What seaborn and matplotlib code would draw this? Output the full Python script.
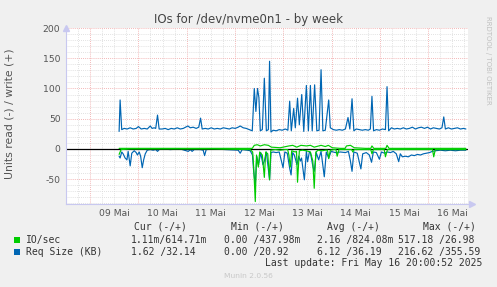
import matplotlib
matplotlib.use("Agg")
import matplotlib.pyplot as plt
from matplotlib.patches import Rectangle
import matplotlib.transforms as mtrans
import numpy as np
import pandas as pd
import seaborn as sns

# ---------------- data (hours since 09 Mai 00:00, value) ----------------
IO_READ = [(14.4, -9), (15.4, -1), (20, 0), (40, 0), (60, 0), (79.6, -1), (80.8, -5), (81.3, -30),
           (82.1, -87), (82.7, -10), (83.6, -30), (84.3, -5), (85.6, -10), (86.6, -47), (87.3, -5),
           (88.3, -8), (89.2, -51), (89.8, -2), (92.0, -1), (94.5, -2), (97.0, -1), (98.2, -1),
           (98.8, -10), (99.5, -30), (100.2, -3), (102.0, -5), (102.6, -4), (103.1, -55), (104.0, -3),
           (105.5, -2), (107.5, -3), (109.5, -5), (110.7, -20), (111.4, -65), (112.2, -5), (113.4, -2),
           (115.4, -3), (116.9, -2), (118.0, -2), (118.6, -16), (119.4, -2), (121.4, -1), (122.2, -1),
           (122.8, -12), (123.7, -1), (126.9, -1), (130.0, -1), (130.6, -5), (131.3, -1), (136.8, -1),
           (139.5, -1), (140.1, -8), (140.8, -1), (146.2, -1), (146.8, -13), (147.8, -1), (154.2, -1),
           (170.2, -1), (170.8, -13), (171.6, -1), (186.8, -1)]
IO_WRITE = [(14.4, 1), (30, 1), (50, 1), (80.6, 1), (81.6, 6), (83.1, 7), (84.6, 5), (86.6, 7),
            (88.6, 6), (90.1, 3), (94.5, 2), (98.8, 5), (100.7, 6), (102.7, 3), (104.8, 6), (107.5, 5),
            (109.5, 6), (111.4, 3), (114.8, 6), (116.9, 4), (118.4, 6), (120.4, 2), (124.4, 1),
            (126.8, 1), (127.4, 5), (129.4, 6), (131.3, 2), (136.8, 1), (139.5, 1), (140.1, 5),
            (141.0, 1), (147.0, 1), (147.6, 6), (148.6, 1), (186.8, 1)]
REQ_READ = [(14.4, -12), (14.9, -15), (15.7, -5), (16.4, -8), (17.4, -15), (18.3, -18), (18.9, -4),
            (19.9, -28), (20.7, -7), (21.9, -3), (22.9, -6), (23.5, -10), (24.4, -5), (25.1, -12),
            (25.9, -31), (26.6, -18), (27.4, -8), (28.4, -2), (29.9, -1), (31.3, -2), (32.6, -1),
            (33.5, -4), (34.3, -1), (36.3, 0), (39.8, -1), (44.8, 0), (47.8, -3), (48.8, -4), (49.8, -1),
            (50.7, -4), (51.7, -1), (54.7, -1), (56.2, -2), (56.9, -11), (57.7, -1), (62.2, 0),
            (67.2, -1), (73.6, -2), (74.6, -7), (75.6, -1), (78.1, -2), (79.6, -3), (80.7, -10),
            (81.3, -37), (82.1, -60), (82.8, -12), (83.7, -26), (84.8, -6), (85.9, -26), (86.6, -20),
            (87.6, -5), (89.2, -51), (89.9, -6), (91.0, -5), (92.5, -6), (94.0, -5), (95.9, -31),
            (96.8, -5), (98.0, -7), (99.2, -32), (99.9, -43), (100.7, -6), (101.5, -10), (102.8, -26),
            (103.7, -12), (104.5, -20), (105.1, -15), (106.5, -51), (107.5, -4), (108.1, -21),
            (109.0, -5), (109.5, -6), (110.8, -30), (111.4, -37), (112.4, -6), (113.6, -18),
            (114.8, -4), (116.4, -46), (117.4, -5), (118.6, -15), (119.8, -4), (121.9, -6), (124.4, -5),
            (126.9, -6), (128.4, -4), (129.4, -20), (130.2, -37), (131.1, -5), (132.8, -7), (134.6, -33),
            (135.5, -8), (137.3, -6), (138.8, -10), (139.9, -22), (140.8, -5), (142.3, -6), (143.8, -17),
            (144.8, -5), (146.3, -7), (147.8, -5), (149.3, -6), (150.7, -4), (152.2, -8), (153.4, -21),
            (154.2, -8), (155.2, -13), (156.7, -12), (158.2, -13), (159.7, -10), (161.2, -11),
            (162.7, -9), (164.2, -10), (165.7, -8), (167.2, -7), (168.7, -6), (170.1, -4), (171.6, -3),
            (174.1, -2), (176.6, -3), (179.1, -2), (181.6, -3), (184.1, -2), (186.8, -2)]
REQ_WRITE = [(14.4, 29), (14.9, 81), (15.7, 32), (16.9, 34), (18.4, 33), (19.9, 35), (21.4, 33),
             (22.9, 34), (24.0, 37), (25.4, 33), (26.9, 34), (28.4, 33), (29.9, 38), (30.8, 34),
             (31.8, 35), (32.6, 34), (33.5, 56), (34.3, 33), (35.8, 33), (37.3, 34), (38.8, 32),
             (40.3, 34), (41.8, 33), (43.3, 35), (44.8, 33), (46.3, 34), (47.5, 36), (48.6, 38),
             (49.8, 35), (51.2, 36), (52.7, 34), (54.0, 36), (54.9, 51), (55.7, 33), (57.2, 34),
             (58.7, 33), (60.2, 35), (61.7, 33), (63.2, 34), (64.7, 33), (66.2, 35), (67.7, 34),
             (69.2, 33), (70.6, 35), (72.1, 34), (73.6, 36), (74.6, 38), (76.1, 35), (77.6, 34),
             (79.1, 32), (80.6, 30), (81.6, 100), (82.4, 62), (83.2, 100), (83.9, 85), (84.6, 30),
             (85.6, 32), (86.6, 117), (87.6, 30), (88.6, 32), (89.2, 145), (89.9, 28), (91.0, 31),
             (92.5, 30), (94.0, 32), (95.5, 31), (97.0, 33), (98.3, 31), (99.2, 79), (100.0, 30),
             (101.2, 67), (102.0, 35), (103.1, 84), (104.0, 40), (105.2, 90), (106.2, 29), (107.5, 105),
             (108.5, 30), (109.5, 105), (110.4, 30), (111.6, 106), (112.7, 30), (113.8, 31),
             (114.8, 131), (115.7, 30), (116.9, 31), (118.6, 81), (119.4, 35), (120.9, 32), (122.4, 31),
             (123.9, 32), (125.4, 31), (126.9, 33), (128.2, 52), (129.1, 33), (130.2, 83), (131.1, 30),
             (132.3, 33), (133.8, 32), (135.3, 31), (136.8, 32), (138.3, 31), (139.3, 33), (140.1, 87),
             (140.9, 30), (142.3, 32), (143.8, 31), (145.3, 33), (146.8, 32), (147.6, 103), (148.4, 30),
             (149.8, 35), (151.2, 33), (152.7, 34), (154.2, 33), (155.7, 35), (157.2, 33), (158.7, 34),
             (160.2, 36), (161.7, 33), (163.2, 35), (164.7, 36), (166.2, 34), (167.7, 36), (169.2, 33),
             (170.6, 35), (172.1, 34), (173.6, 33), (174.9, 35), (175.8, 53), (176.6, 33), (178.1, 35),
             (179.6, 33), (181.1, 34), (182.6, 35), (184.1, 33), (185.6, 34), (186.8, 33)]

DAY_LABELS = ["09 Mai", "10 Mai", "11 Mai", "12 Mai", "13 Mai", "14 Mai", "15 Mai", "16 Mai"]
Y_TICKS = [-50, 0, 50, 100, 150, 200]

LEGEND_HEAD = ["Cur (-/+)", "Min (-/+)", "Avg (-/+)", "Max (-/+)"]
IO_STATS = ["1.11m/614.71m", "0.00 /437.98m", "2.16 /824.08m", "517.18 /26.98"]
REQ_STATS = ["1.62 /32.14", "0.00 /20.92", "6.12 /36.19", "216.62 /355.59"]

GREEN = "#00CC00"
BLUE = "#0066B3"

# ---------------- figure ----------------
sns.set_theme(style="white")
plt.rcParams["font.family"] = ["DejaVu Sans"]

W, H = 497, 287
fig = plt.figure(figsize=(W / 100, H / 100), dpi=100, facecolor="#F0F0F0")


def fx(px):
    return px / W


def fy(py):
    return 1 - py / H


ax = fig.add_axes([fx(66), fy(204), (467.7 - 66) / W, (204 - 28) / H])
ax.set_facecolor("white")
ax.set_xlim(-12, 187.7)
ax.set_ylim(-91, 200)

# grid
ax.set_xticks(np.arange(0, 169, 24))
ax.set_xticks(np.arange(-6, 187, 6), minor=True)
ax.set_yticks(Y_TICKS)
ax.set_yticks(np.arange(-90, 201, 10), minor=True)
ax.grid(which="minor", color="#d8d8d8", linestyle=(0, (1, 1.5)), linewidth=0.6)
ax.grid(which="major", color="#f0a0a0", linestyle=(0, (1, 1.5)), linewidth=0.6)
ax.set_axisbelow(True)
ax.set_xticklabels([])
ax.set_yticklabels([str(v) for v in Y_TICKS], fontsize=6.7, color="#555555")
ax.tick_params(axis="both", which="both", length=0, pad=4)

for s in ["top", "right"]:
    ax.spines[s].set_visible(False)
for s in ["left", "bottom"]:
    ax.spines[s].set_color("#c8c8f0")
    ax.spines[s].set_linewidth(0.8)


def to_df(pairs):
    return pd.DataFrame(pairs, columns=["h", "v"])


# series: blue first, then zero rule, then green on top
for pairs in (REQ_READ, REQ_WRITE):
    sns.lineplot(data=to_df(pairs), x="h", y="v", color=BLUE, linewidth=0.85,
                 estimator=None, sort=True, ax=ax, legend=False, zorder=2)
ax.axhline(0, color="black", linewidth=0.9, zorder=2.5)
for pairs in (IO_READ, IO_WRITE):
    sns.lineplot(data=to_df(pairs), x="h", y="v", color=GREEN, linewidth=0.85,
                 estimator=None, sort=True, ax=ax, legend=False, zorder=3)
ax.set_xlabel("")
ax.set_ylabel("")

# axis arrows
ax.plot([0], [1.0], marker="^", markersize=4, color="#c8c8f0", transform=ax.transAxes, clip_on=False)
ax.plot([1.01], [0], marker=">", markersize=4, color="#c8c8f0", transform=ax.transAxes, clip_on=False)

# day labels centred at noon
trans = mtrans.blended_transform_factory(ax.transData, fig.transFigure)
for i, lab in enumerate(DAY_LABELS):
    ax.text(12 + 24 * i, fy(213), lab, transform=trans, ha="center", va="center",
            fontsize=6.7, color="#555555")

# title & labels
fig.text(fx(248.5), fy(19), "IOs for /dev/nvme0n1 - by week", ha="center", va="center",
         fontsize=8.5, color="#444444")
fig.text(fx(10), fy(113.5), "Units read (-) / write (+)", rotation=90, ha="center", va="center",
         fontsize=7.8, color="#555555")
fig.text(fx(488), fy(60), "RRDTOOL / TOBI OETIKER", rotation=270, ha="center", va="center",
         fontsize=5, color="#c0c0c0")

# legend block
mono = dict(family="DejaVu Sans Mono", fontsize=7, color="#333333", va="center")
head_x = [134, 231, 327, 423]
for x, t in zip(head_x, LEGEND_HEAD):
    fig.text(fx(x), fy(226.7), t, ha="left", **mono)

fig.add_artist(Rectangle((fx(14), fy(243)), 6 / W, 6 / H, transform=fig.transFigure,
                         facecolor=GREEN, edgecolor="none"))
fig.add_artist(Rectangle((fx(14), fy(255)), 6 / W, 6 / H, transform=fig.transFigure,
                         facecolor=BLUE, edgecolor="none"))
fig.text(fx(26), fy(240), "IO/sec", ha="left", **mono)
fig.text(fx(26), fy(252), "Req Size (KB)", ha="left", **mono)

col_start = [131, 224, 317, 398]
for x0, t in zip(col_start, IO_STATS):
    fig.text(fx(x0), fy(240), t, ha="left", **mono)
for x0, t in zip(col_start, REQ_STATS):
    fig.text(fx(x0), fy(252), t, ha="left", **mono)

fig.text(fx(482), fy(263.5), "Last update: Fri May 16 20:00:52 2025", ha="right", **mono)
fig.text(fx(248), fy(276), "Munin 2.0.56", ha="center", va="center", fontsize=5.4, color="#c8c8c8")

fig.savefig("out.png", dpi=100, facecolor=fig.get_facecolor())
